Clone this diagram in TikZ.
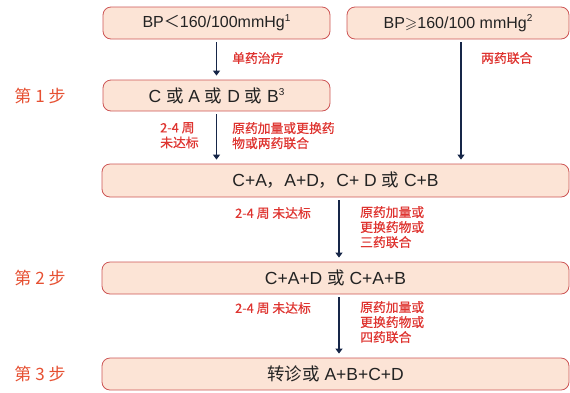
\documentclass[tikz,border=0pt]{standalone}
\usepackage{fontspec}
\usepackage{amssymb}
\setmainfont{Liberation Sans}
\newfontfamily\cjk{Noto Sans CJK SC}
\newfontfamily\cjkb[FakeBold=0.6]{Noto Sans CJK SC}
\newcommand{\mysup}[1]{\raisebox{0.75ex}{\fontsize{10}{10}\selectfont #1}}
\usetikzlibrary{arrows.meta}
\definecolor{boxfill}{RGB}{252,228,214}
\definecolor{boxline}{RGB}{205,85,85}
\definecolor{boxtext}{RGB}{35,35,35}
\definecolor{labred}{RGB}{222,52,48}
\definecolor{steporange}{RGB}{230,80,50}
\definecolor{arrowc}{RGB}{22,38,72}
\begin{document}
\begin{tikzpicture}[x=1pt,y=-1pt,
  box/.style={draw=boxline, fill=boxfill, rounded corners=8pt, line width=0.8pt, inner sep=0pt, text=boxtext, font=\fontsize{17.5}{20}\selectfont},
  topbox/.style={box, font=\fontsize{16}{19}\selectfont},
  lab/.style={text=labred, font=\cjkb\fontsize{12.8}{15}\selectfont, align=left, inner sep=0pt},
  steplab/.style={text=steporange, font=\cjk\fontsize{17}{20}\selectfont, inner sep=0pt},
  arr/.style={draw=arrowc, line width=1.1pt, -{Triangle[length=5pt,width=7pt]}, shorten <=3pt, shorten >=4pt}]
\useasboundingbox (0,0) rectangle (570,392);

\node[topbox, minimum width=227pt, minimum height=32pt] (top1) at (216.5,23) {BP{\cjk ＜}160/100mmHg\mysup{1}};
\node[topbox, minimum width=222pt, minimum height=32pt] (top2) at (458,23) {BP$\geqslant$160/100 mmHg\mysup{2}};
\node[box, minimum width=227pt, minimum height=31pt] (step1) at (216.5,95.5) {C {\cjk 或} A {\cjk 或} D {\cjk 或} B\mysup{3}};
\node[box, minimum width=467pt, minimum height=33pt] (CA) at (335.5,180.5) {C+A{\cjk ，}A+D{\cjk ，}C+ D {\cjk 或} C+B};
\node[box, minimum width=467pt, minimum height=32pt] (step2) at (335.5,278) {C+A+D {\cjk 或} C+A+B};
\node[box, minimum width=467pt, minimum height=32pt] (step3) at (335.5,374) {{\cjk 转诊或} A+B+C+D};

\node[steplab] (s1) at (40,95.5) {第 1 步};
\node[steplab] (s2) at (40,278) {第 2 步};
\node[steplab] (s3) at (40,374) {第 3 步};

\node[lab, anchor=west] (l1) at (232,58) {单药治疗};
\node[lab, anchor=west] (l2) at (481,58) {两药联合};
\node[lab, anchor=north west] (l3) at (160,122) {2-4 周\\未达标};
\node[lab, anchor=north west] (l4) at (232,122) {原药加量或更换药\\物或两药联合};
\node[lab, anchor=west] (l5) at (235,213) {2-4 周 未达标};
\node[lab, anchor=north west] (l6) at (360,206) {原药加量或\\更换药物或\\三药联合};
\node[lab, anchor=west] (l7) at (235,308) {2-4 周 未达标};
\node[lab, anchor=north west] (l8) at (360,301) {原药加量或\\更换药物或\\四药联合};

\draw[arr] (top1.south) -- (step1.north);
\draw[arr] (step1.south) -- (step1.south |- CA.north);
\draw[arr] ([xshift=3pt]top2.south) -- ([xshift=3pt]top2.south |- CA.north);
\draw[arr] ([xshift=3.5pt]CA.south) -- ([xshift=3.5pt]step2.north);
\draw[arr] ([xshift=3.5pt]step2.south) -- ([xshift=3.5pt]step3.north);
\end{tikzpicture}
\end{document}
